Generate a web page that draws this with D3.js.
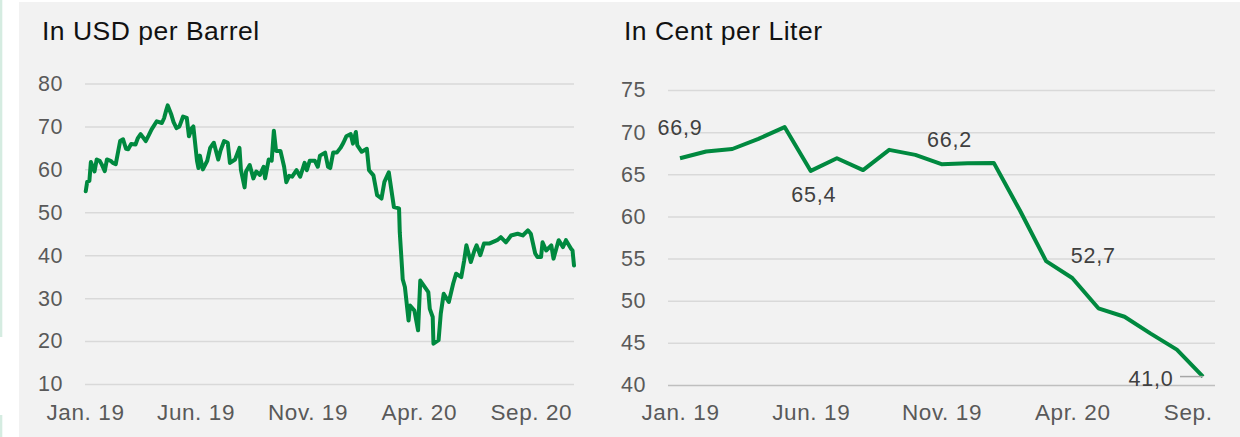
<!DOCTYPE html>
<html>
<head>
<meta charset="utf-8">
<script src="https://cdn.jsdelivr.net/npm/d3@7"></script>
<style>
  html, body { margin: 0; padding: 0; background: #fff; }
  svg { display: block; font-family: "Liberation Sans", Arial, sans-serif; }
</style>
</head>
<body>
<div id="chart"></div>
<script>
// Brent, USD per barrel
const brentDates = [
  "2019-01-02","2019-01-04","2019-01-07","2019-01-09","2019-01-14","2019-01-17","2019-01-21","2019-01-24","2019-01-28","2019-01-31",
  "2019-02-05","2019-02-08","2019-02-12","2019-02-18","2019-02-22","2019-02-26","2019-03-01","2019-03-05","2019-03-11","2019-03-14",
  "2019-03-18","2019-03-25","2019-03-29","2019-04-02","2019-04-09","2019-04-16","2019-04-19","2019-04-22","2019-04-24","2019-04-29",
  "2019-05-02","2019-05-06","2019-05-10","2019-05-15","2019-05-20","2019-05-23","2019-05-27","2019-05-29","2019-06-03","2019-06-05",
  "2019-06-07","2019-06-11","2019-06-17","2019-06-21","2019-06-26","2019-07-02","2019-07-05","2019-07-10","2019-07-15","2019-07-18",
  "2019-07-25","2019-07-31","2019-08-02","2019-08-07","2019-08-09","2019-08-14","2019-08-19","2019-08-23","2019-08-28","2019-09-02",
  "2019-09-04","2019-09-09","2019-09-13","2019-09-16","2019-09-19","2019-09-25","2019-09-30","2019-10-03","2019-10-07","2019-10-11",
  "2019-10-17","2019-10-22","2019-10-28","2019-10-31","2019-11-04","2019-11-11","2019-11-15","2019-11-18","2019-11-25","2019-11-29",
  "2019-12-02","2019-12-06","2019-12-11","2019-12-16","2019-12-20","2019-12-24","2019-12-30","2020-01-02","2020-01-06","2020-01-08",
  "2020-01-14","2020-01-21","2020-01-24","2020-01-30","2020-02-04","2020-02-10","2020-02-14","2020-02-20","2020-02-27","2020-03-05",
  "2020-03-06","2020-03-09","2020-03-10","2020-03-13","2020-03-18","2020-03-20","2020-03-26","2020-03-31","2020-04-03","2020-04-09",
  "2020-04-14","2020-04-16","2020-04-20","2020-04-21","2020-04-28","2020-05-01","2020-05-05","2020-05-12","2020-05-18","2020-05-22",
  "2020-05-29","2020-06-02","2020-06-05","2020-06-11","2020-06-16","2020-06-19","2020-06-24","2020-06-29","2020-07-06","2020-07-10",
  "2020-07-17","2020-07-22","2020-07-29","2020-08-05","2020-08-14","2020-08-21","2020-08-28","2020-09-01","2020-09-07","2020-09-10",
  "2020-09-15","2020-09-17","2020-09-22","2020-09-29","2020-10-02","2020-10-09","2020-10-15","2020-10-19","2020-10-26","2020-10-28",
  "2020-10-30"
];
const brentPrices = [
  54.9, 57.1, 57.3, 61.7, 59.5, 62.3, 62.0, 61.1, 59.6, 62.3,
  62.0, 61.5, 61.2, 66.6, 67.0, 64.8, 64.7, 65.9, 65.8, 67.2,
  68.2, 66.6, 67.9, 69.3, 71.2, 70.8, 71.9, 73.8, 74.9, 72.7,
  71.0, 69.6, 70.0, 72.3, 72.0, 67.7, 69.6, 70.0, 62.0, 60.3,
  63.2, 60.0, 62.0, 65.0, 66.2, 62.3, 64.3, 66.6, 66.2, 61.5,
  62.3, 65.0, 59.9, 55.8, 59.5, 61.0, 57.9, 59.5, 58.7, 60.6,
  57.9, 62.3, 62.0, 69.0, 64.3, 64.3, 60.6, 57.0, 58.5, 58.3,
  59.8, 58.3, 61.5, 59.8, 62.0, 62.0, 60.6, 63.2, 63.9, 60.6,
  60.3, 63.9, 63.9, 65.0, 66.2, 67.7, 68.2, 66.0, 68.7, 65.6,
  64.1, 64.8, 59.8, 58.6, 54.0, 53.2, 57.1, 59.3, 51.2, 50.9,
  45.3, 37.3, 34.4, 32.6, 24.8, 28.3, 27.1, 22.5, 34.1, 32.6,
  31.4, 27.5, 25.6, 19.4, 20.2, 26.4, 31.0, 29.1, 33.4, 35.7,
  34.9, 38.8, 42.3, 38.4, 41.1, 42.3, 40.0, 42.7, 42.7, 43.0,
  43.5, 44.2, 43.0, 44.6, 45.0, 44.6, 45.8, 45.0, 40.4, 39.6,
  39.6, 43.0, 41.1, 42.3, 39.2, 43.5, 41.9, 43.5, 41.5, 41.1,
  37.6
];
const leftTickDates = ["2019-01-01","2019-06-01","2019-11-01","2020-04-01","2020-09-01"];
const leftYTicks = [10, 20, 30, 40, 50, 60, 70, 80];

// Cent per liter, monthly
const dieselMonths = [
  "2019-01","2019-02","2019-03","2019-04","2019-05","2019-06","2019-07","2019-08","2019-09","2019-10","2019-11","2019-12",
  "2020-01","2020-02","2020-03","2020-04","2020-05","2020-06","2020-07","2020-08","2020-09"
];
const dieselPrices = [
  66.9, 67.7, 68.0, 69.2, 70.6, 65.4, 66.9, 65.5, 67.9, 67.3, 66.2, 66.3,
  66.35, 60.7, 54.7, 52.7, 49.1, 48.1, 46.1, 44.2, 41.0
];
const rightTickMonths = ["2019-01","2019-06","2019-11","2020-04","2020-09"];
const rightTickLabels = ["Jan. 19","Jun. 19","Nov. 19","Apr. 20","Sep."];
const rightYTicks = [40, 45, 50, 55, 60, 65, 70, 75];
const labelledMonths = ["2019-01","2019-06","2019-11","2020-04","2020-09"];

const width = 1240, height = 437;
const green = "#00893f";
const gridColor = "#d9d9d9";
const tickColor = "#595959";

const parseDate = d3.timeParse("%Y-%m-%d");
const brent = brentDates.map((d, i) => ({ date: parseDate(d), value: brentPrices[i] }));
const diesel = dieselMonths.map((m, i) => ({ month: m, value: dieselPrices[i] }));
const commaFormat = v => d3.format(".1f")(v).replace(".", ",");

const svg = d3.select("#chart").append("svg")
  .attr("width", width)
  .attr("height", height);

// left edge strips and panel
svg.append("rect").attr("x", 0).attr("y", 0).attr("width", 2.3).attr("height", 337).attr("fill", "#d5ece1");
svg.append("rect").attr("x", 0).attr("y", 415).attr("width", 2.3).attr("height", 22).attr("fill", "#d5ece1");
svg.append("rect").attr("x", 19).attr("y", 2).attr("width", width - 19).attr("height", height - 2).attr("fill", "#f2f2f2");

function styleAxis(g, size, spacing) {
  g.attr("font-size", null).attr("font-family", null);
  g.select(".domain").remove();
  g.selectAll("line").attr("stroke", gridColor).attr("stroke-width", 1.5);
  g.selectAll("text").attr("fill", tickColor).attr("font-size", size).attr("letter-spacing", spacing);
}

// ---- left chart
const xL = d3.scaleTime([parseDate("2019-01-01"), parseDate("2020-10-30")], [85, 574]);
const yL = d3.scaleLinear([10, 80], [384, 83.5]);

svg.append("text").attr("x", 42).attr("y", 40)
  .attr("font-size", 26.5).attr("letter-spacing", "0.5px").attr("fill", "#111")
  .text("In USD per Barrel");

svg.append("g").attr("transform", "translate(85,0)")
  .call(d3.axisLeft(yL).tickValues(leftYTicks).tickSize(-(574 - 85)).tickPadding(22))
  .call(g => styleAxis(g, 21.5, "0.5px"));

svg.append("g").attr("transform", "translate(0,384)")
  .call(d3.axisBottom(xL).tickValues(leftTickDates.map(parseDate)).tickFormat(d3.timeFormat("%b. %y")).tickSize(0).tickPadding(20))
  .call(g => styleAxis(g, 22.5, "0.6px"));

svg.append("path").datum(brent)
  .attr("fill", "none").attr("stroke", green).attr("stroke-width", 4)
  .attr("stroke-linejoin", "round").attr("stroke-linecap", "round")
  .attr("d", d3.line().x(d => xL(d.date)).y(d => yL(d.value)));

// ---- right chart
const xR = d3.scalePoint(dieselMonths, [680, 1203]);
const yR = d3.scaleLinear([40, 75], [385, 90]);

svg.append("text").attr("x", 624).attr("y", 40)
  .attr("font-size", 26.5).attr("letter-spacing", "0.5px").attr("fill", "#111")
  .text("In Cent per Liter");

svg.append("g").attr("transform", "translate(668,0)")
  .call(d3.axisLeft(yR).tickValues(rightYTicks).tickSize(-(1215 - 668)).tickPadding(22))
  .call(g => styleAxis(g, 21.5, "0.5px"))
  .call(g => g.selectAll(".tick").filter(d => d === 40).select("line").attr("stroke", "#bfbfbf"));

svg.append("g").attr("transform", "translate(0,385)")
  .call(d3.axisBottom(xR).tickValues(rightTickMonths).tickFormat((d, i) => rightTickLabels[i]).tickSize(0).tickPadding(19))
  .call(g => styleAxis(g, 22.5, "0.6px"))
  .call(g => g.selectAll(".tick").filter(d => d === "2020-09").select("text").attr("text-anchor", "end").attr("dx", 9));

svg.append("path").datum(diesel)
  .attr("fill", "none").attr("stroke", green).attr("stroke-width", 4)
  .attr("stroke-linejoin", "round")
  .attr("d", d3.line().x(d => xR(d.month)).y(d => yR(d.value)));

// data labels
const labelOffsets = {
  "2019-01": { dx: 0, dy: -23, anchor: "middle" },
  "2019-06": { dx: 3, dy: 31, anchor: "middle" },
  "2019-11": { dx: 8, dy: -17, anchor: "middle" },
  "2020-04": { dx: 21, dy: -15, anchor: "middle" },
  "2020-09": { dx: -29.5, dy: 9, anchor: "end" }
};
const labelled = diesel.filter(d => labelledMonths.includes(d.month));

svg.append("g").selectAll("text")
  .data(labelled)
  .join("text")
    .attr("x", d => xR(d.month) + labelOffsets[d.month].dx)
    .attr("y", d => yR(d.value) + labelOffsets[d.month].dy)
    .attr("text-anchor", d => labelOffsets[d.month].anchor)
    .attr("font-size", 21.5).attr("letter-spacing", "0.8px")
    .attr("fill", "#404040")
    .text(d => commaFormat(d.value));

// leader line for the last label
const last = diesel[diesel.length - 1];
svg.append("line")
  .attr("x1", xR(last.month) - 23).attr("x2", xR(last.month))
  .attr("y1", yR(last.value)).attr("y2", yR(last.value))
  .attr("stroke", "#a6a6a6").attr("stroke-width", 1.5);
</script>
</body>
</html>
